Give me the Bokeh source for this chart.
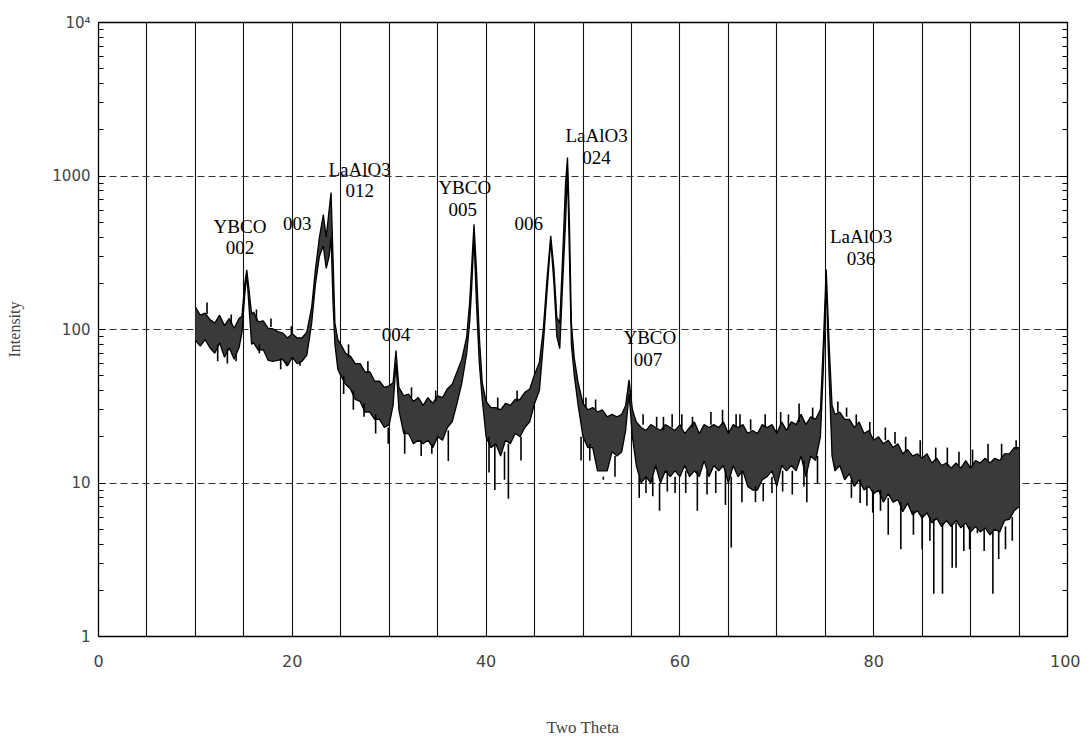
from bokeh.plotting import figure
from bokeh.models import SingleIntervalTicker, FixedTicker, LogAxis, LogTicker, Range1d
from bokeh.core.properties import value
from bokeh.embed import file_html
from bokeh.resources import INLINE

# ---- data (2-theta in degrees, intensity in counts) ----
theta = [10.0, 10.5, 11.0, 11.5, 12.0, 12.5, 13.0, 13.5, 14.0, 14.5, 14.8, 15.1, 15.3, 15.5, 15.8,
         16.0, 16.5, 17.0, 17.5, 18.0, 18.5, 19.0, 19.5, 20.0, 20.5, 21.0, 21.5, 22.0, 22.4, 22.8,
         23.2, 23.5, 23.8, 24.0, 24.2, 24.4, 24.7, 25.0, 25.5, 26.0, 26.5, 27.0, 27.5, 28.0, 28.5,
         29.0, 29.5, 30.0, 30.4, 30.7, 31.0, 31.5, 32.0, 32.5, 33.0, 33.5, 34.0, 34.5, 35.0, 35.5,
         36.0, 36.5, 37.0, 37.5, 38.0, 38.3, 38.5, 38.75, 39.0, 39.3, 39.6, 40.0, 40.5, 41.0, 41.5,
         42.0, 42.5, 43.0, 43.5, 44.0, 44.5, 45.0, 45.5, 45.9, 46.3, 46.67, 47.0, 47.3, 47.6, 47.9,
         48.2, 48.4, 48.6, 48.8, 49.1, 49.5, 50.0, 50.5, 51.0, 51.5, 52.0, 52.5, 53.0, 53.5, 54.0,
         54.4, 54.75, 55.1, 55.5, 56.0, 56.5, 57.0, 57.5, 58.0, 58.5, 59.0, 59.5, 60.0, 60.5, 61.0,
         61.5, 62.0, 62.5, 63.0, 63.5, 64.0, 64.5, 65.0, 65.5, 66.0, 66.5, 67.0, 67.5, 68.0, 68.5,
         69.0, 69.5, 70.0, 70.5, 71.0, 71.5, 72.0, 72.5, 73.0, 73.5, 74.0, 74.5, 74.8, 75.1, 75.4,
         75.7, 76.0, 76.5, 77.0, 77.5, 78.0, 78.5, 79.0, 79.5, 80.0, 80.5, 81.0, 81.5, 82.0, 82.5,
         83.0, 83.5, 84.0, 84.5, 85.0, 85.5, 86.0, 86.5, 87.0, 87.5, 88.0, 88.5, 89.0, 89.5, 90.0,
         90.5, 91.0, 91.5, 92.0, 92.5, 93.0, 93.5, 94.0, 94.5, 95.0]

intensity_upper = [140, 124, 128, 116, 110, 124, 106, 118, 102, 118, 122, 200, 245, 190, 126,
                   130, 112, 114, 102, 101, 97, 95, 88, 94, 88, 88, 96, 140, 250, 400,
                   560, 400, 600, 780, 300, 110, 86, 80, 70, 67, 60, 60, 53, 53, 46,
                   46, 42, 43, 45, 73, 42, 37, 38, 34, 36, 32, 36, 33, 37, 36,
                   41, 44, 53, 64, 90, 150, 250, 485, 250, 90, 45, 34, 31, 31, 30,
                   33, 32, 35, 35, 39, 41, 51, 61, 100, 220, 408, 250, 120, 110, 300,
                   900, 1320, 500, 110, 65, 45, 33, 30, 31, 29, 30, 27, 28, 27, 28,
                   32, 47, 30, 25, 23, 22, 24, 23, 22, 24, 23, 22, 24, 21, 23,
                   25, 21, 24, 23, 24, 23, 25, 21, 24, 23, 24, 21, 22, 21, 24,
                   23, 24, 21, 25, 22, 25, 24, 28, 24, 27, 26, 30, 80, 246, 80,
                   32, 28, 29, 26, 26, 23, 25, 21, 22, 19, 20, 18, 19, 17, 18,
                   15.5, 16.5, 15, 15.5, 14.5, 15.5, 13.5, 14.5, 13, 13.5, 12.5, 13.5, 12.5, 14, 12.5,
                   14, 13.5, 14.5, 13.5, 14.5, 14, 15.5, 15.5, 17, 17]

intensity_lower = [85, 78, 86, 76, 70, 82, 66, 76, 64, 76, 95, 170, 230, 150, 80,
                   82, 73, 74, 63, 62, 63, 64, 58, 66, 60, 62, 68, 110, 200, 300,
                   350, 250, 300, 400, 150, 80, 55, 50, 44, 41, 35, 34, 29, 29, 26,
                   26, 23, 24, 32, 60, 30, 21, 21, 18, 19, 18, 19, 17, 20, 19,
                   23, 25, 33, 45, 70, 110, 180, 400, 150, 60, 35, 20, 17, 18, 15,
                   19, 18, 21, 20, 23, 25, 33, 40, 80, 180, 380, 200, 90, 75, 200,
                   500, 1100, 300, 80, 50, 32, 20, 17, 17, 12, 12, 12, 16, 15, 16,
                   22, 38, 20, 13, 10, 11, 10, 13, 10, 12, 11, 12, 11, 13, 11,
                   12, 11, 14, 11, 13, 12, 13, 10, 13, 11, 12, 9.5, 9, 9, 10.5,
                   11, 12, 9.5, 13, 12, 13, 12, 15, 11, 15, 14, 20, 55, 200, 50,
                   15, 12, 13, 10.5, 11.5, 9.5, 10.5, 9, 9.5, 8.5, 9, 7.5, 8.5, 7.5, 7.8,
                   6.5, 7.4, 6.2, 6.6, 5.9, 6.4, 5.5, 5.9, 5.2, 5.7, 5.2, 5.7, 5.1, 5.5, 4.8,
                   5.2, 4.8, 5.1, 4.6, 5, 4.8, 5.7, 5.8, 6.6, 7]

# sharp downward noise spikes (position, band edge, lowest count)
spike_theta = [12.3, 13.3, 14.2, 16.6, 18.8, 19.4, 20.8, 25.3, 26.3, 27.4, 28.6, 29.9,
               31.6, 33.3, 34.4, 36.1, 40.3, 40.9, 41.9, 42.3, 43.6, 49.8, 50.7, 52.1, 53.3,
               55.8, 56.5, 57.2, 57.9, 58.7, 59.5, 60.6, 61.8, 62.8, 63.7, 64.7, 65.3, 66.4,
               67.8, 68.6, 69.5, 70.6, 71.6, 72.8, 73.1, 74.2,
               76.0, 77.7, 78.6, 79.3, 79.9, 80.7, 81.5, 82.8, 84.1, 85.0, 85.8, 86.2, 87.1,
               88.1, 88.5, 89.3, 89.9, 90.7, 91.4, 92.3, 92.9, 93.6, 94.3]
spike_top = [80, 75, 70, 80, 65, 62, 62, 50, 40, 33, 28, 23,
             22, 19, 18, 22, 20, 18, 16, 18, 20, 20, 18, 11, 15,
             11, 11, 11, 10, 12, 11, 12, 12, 12, 12, 12, 11, 12,
             9.5, 10, 11, 12, 12, 14, 12, 15,
             13, 10.5, 10.5, 9.5, 9, 9, 8, 7.5, 6.6, 6.2, 6, 5.8, 5.5,
             5.4, 5.5, 5.3, 5.2, 5, 5, 4.8, 4.8, 5.2, 6]
spike_low = [62, 60, 62, 70, 55, 58, 58, 38, 30, 27, 21, 18,
             15.5, 15, 15.5, 13.9, 11.7, 9, 10.5, 7.9, 14, 14, 14, 10.5, 11,
             8, 8.6, 8.2, 6.6, 8.8, 8.6, 8.6, 6.6, 8.4, 8.6, 7.2, 3.8, 7.5,
             7.5, 7.6, 8.6, 8.8, 8.4, 9.5, 7.5, 10,
             12, 8, 7.4, 7.1, 6.4, 6.6, 4.6, 3.7, 4.6, 3.7, 4.2, 1.9, 1.9,
             2.8, 2.8, 3.6, 3.7, 4.7, 3.6, 1.9, 3.2, 3.7, 4.2]

# short upward noise spikes
up_theta = [11.2, 13.7, 16.3, 17.8, 19.9, 25.8, 27.8, 32.3, 34.8, 41.2, 43.2, 50.3, 51.3,
            56.2, 57.6, 58.3, 59.2, 60.2, 61.3, 63.2, 64.4, 65.8, 66.2, 67.3, 68.8, 70.4,
            71.2, 72.3, 73.7, 76.3, 77.2, 78.2, 79.6, 81.2, 82.2,
            83.3, 84.8, 86.4, 87.6, 88.8, 90.2, 91.8, 93.2, 94.7]
up_base = [126, 108, 114, 104, 93, 66, 52, 36, 34, 30, 34, 31, 30,
           24, 23, 22, 23, 23, 23, 24, 24, 23, 23, 22, 23, 24,
           23, 25, 26, 29, 27, 24, 21, 19, 18,
           16, 15, 14, 13, 13, 13, 14, 14.5, 16.5]
up_top = [150, 125, 135, 118, 105, 80, 62, 42, 40, 36, 40, 36, 35,
          28, 27, 27, 28, 28, 27, 29, 30, 28, 28, 26, 28, 29,
          28, 33, 31, 34, 31, 28, 25, 23, 21.5,
          20, 19, 17, 17, 16, 16.5, 18, 18, 19]

# peak annotations
label_text = ["YBCO", "002", "003", "LaAlO3", "012", "004", "YBCO", "005", "006",
              "LaAlO3", "024", "YBCO", "007", "LaAlO3", "036"]
label_x = [14.6, 14.6, 20.5, 26.95, 26.95, 30.7, 37.8, 37.6, 44.4,
           51.4, 51.4, 56.9, 56.7, 78.7, 78.7]
label_y = [472, 341, 490, 1106, 807, 93, 840, 606, 490,
           1830, 1318, 89, 64, 404, 291]

x_ticks = [0, 20, 40, 60, 80, 100]
y_ticks = [1, 10, 100, 1000, 10000]
y_tick_labels = {1: "1", 10: "10", 100: "100", 1000: "1000", 10000: "10\u2074"}

# ---- figure ----
p = figure(width=1080, height=742, y_axis_type="log",
           x_range=Range1d(0, 100), y_range=Range1d(1, 10000),
           output_backend="svg", toolbar_location=None,
           min_border_left=98, min_border_right=13, min_border_top=22, min_border_bottom=106)
p.outline_line_color = "black"
p.outline_line_width = 1.3
p.background_fill_color = "white"
p.border_fill_color = "white"

# grids
p.xgrid.ticker = SingleIntervalTicker(interval=5)
p.xgrid.grid_line_color = "#111111"
p.xgrid.grid_line_width = 1.1
p.ygrid.ticker = FixedTicker(ticks=[10, 100, 1000])
p.ygrid.grid_line_color = "#333333"
p.ygrid.grid_line_width = 1
p.ygrid.grid_line_dash = "7 4"

# x axis
xa = p.xaxis[0]
xa.ticker = FixedTicker(ticks=x_ticks)
xa.axis_label = "Two Theta"
xa.axis_label_text_font = "Liberation Serif"
xa.axis_label_text_font_style = "normal"
xa.axis_label_text_font_size = "17px"
xa.axis_label_standoff = 48
xa.major_label_text_font = "DejaVu Sans"
xa.major_label_text_font_size = "16px"
xa.major_label_standoff = 18
xa.major_tick_in = 0
xa.major_tick_out = 0
xa.minor_tick_in = 0
xa.minor_tick_out = 0
xa.axis_line_color = "black"

# y axis
ya = p.yaxis[0]
ya.ticker = LogTicker(desired_num_ticks=5, num_minor_ticks=10)
ya.major_label_overrides = y_tick_labels
ya.axis_label = "Intensity"
ya.axis_label_text_font = "Liberation Serif"
ya.axis_label_text_font_style = "normal"
ya.axis_label_text_font_size = "16px"
ya.axis_label_standoff = 26
ya.major_label_text_font = "DejaVu Sans"
ya.major_label_text_font_size = "15px"
ya.major_label_standoff = 8
ya.major_tick_in = 7
ya.major_tick_out = 0
ya.minor_tick_in = 5
ya.minor_tick_out = 0
ya.axis_line_color = "black"

ra = LogAxis(ticker=LogTicker(desired_num_ticks=5, num_minor_ticks=10))
ra.major_label_text_color = None
ra.major_tick_in = 7
ra.major_tick_out = 0
ra.minor_tick_in = 5
ra.minor_tick_out = 0
ra.major_label_standoff = 0
p.add_layout(ra, "right")

# data band
p.varea(x=theta, y1=intensity_lower, y2=intensity_upper, fill_color="#3a3a3a")
p.line(theta, intensity_upper, line_color="black", line_width=1.3)
p.line(theta, intensity_lower, line_color="black", line_width=1.3)
p.segment(x0=spike_theta, y0=spike_top, x1=spike_theta, y1=spike_low,
          line_color="black", line_width=1.6)
p.segment(x0=up_theta, y0=up_base, x1=up_theta, y1=up_top,
          line_color="black", line_width=1.6)

# labels
p.text(x=label_x, y=label_y, text=label_text, text_align="center", text_baseline="middle",
       text_font=value("Liberation Serif"), text_font_size="19px", text_color="black")

open("out.html", "w").write(file_html(p, INLINE))
